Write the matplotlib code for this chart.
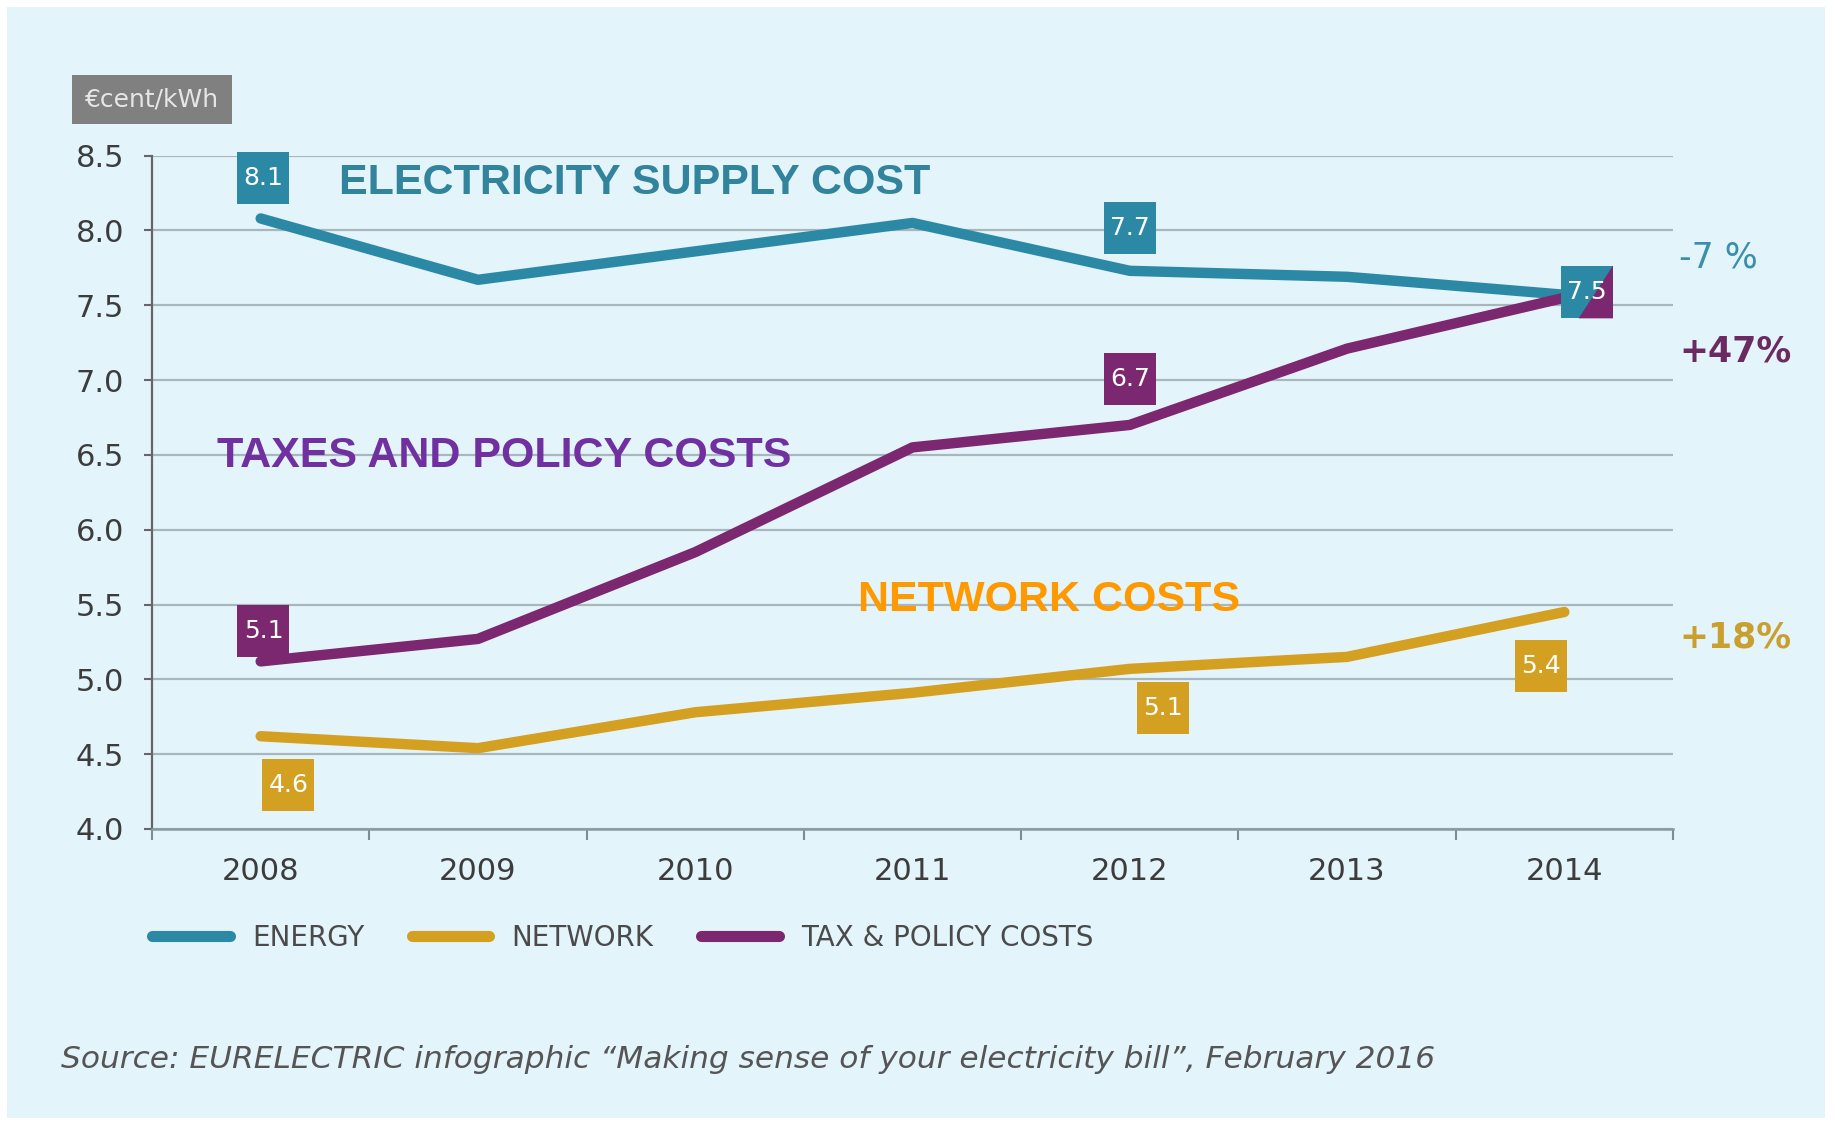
import matplotlib
matplotlib.use('Agg')
import matplotlib.pyplot as plt
from matplotlib.patches import Rectangle, Polygon
from matplotlib.transforms import offset_copy
import numpy as np

years = [2008, 2009, 2010, 2011, 2012, 2013, 2014]
energy = [8.08, 7.67, 7.86, 8.05, 7.73, 7.69, 7.57]
network = [4.62, 4.54, 4.78, 4.91, 5.07, 5.15, 5.45]
tax = [5.12, 5.27, 5.85, 6.55, 6.70, 7.21, 7.55]

series_names = ['ENERGY', 'NETWORK', 'TAX & POLICY COSTS']
y_ticks = [4.0, 4.5, 5.0, 5.5, 6.0, 6.5, 7.0, 7.5, 8.0, 8.5]

# value boxes: (series, year index, text, offset in points)
value_boxes = [
    ('energy', 0, '8.1', (2, 29)),
    ('energy', 4, '7.7', (0, 31)),
    ('tax', 4, '6.7', (0, 33)),
    ('tax', 0, '5.1', (2, 22)),
    ('network', 0, '4.6', (20, -35)),
    ('network', 4, '5.1', (24, -28)),
    ('network', 6, '5.4', (-17, -39)),
]
changes = [('-7 %', 7.82, 'energy'), ('+47%', 7.19, 'tax'), ('+18%', 5.28, 'network')]

BG = '#E4F4FB'
TEAL = '#2C89A6'
GOLD = '#D4A022'
PURPLE = '#7B2870'
colors = {'energy': TEAL, 'network': GOLD, 'tax': PURPLE}
change_colors = {'energy': '#3A8FAA', 'network': '#C9A030', 'tax': '#6B2A60'}
values = {'energy': energy, 'network': network, 'tax': tax}
BOX = 38  # marker size of the value boxes, points

fig = plt.figure(figsize=(18.34, 11.21), dpi=100, facecolor='white')
fig.patches.append(Rectangle((0.004, 0.003), 0.991, 0.991, transform=fig.transFigure,
                             facecolor=BG, edgecolor='none', zorder=-10))
ax = fig.add_axes([0.0829, 0.2605, 0.8293, 0.6007])
ax.set_facecolor('none')

for key, label in zip(['energy', 'network', 'tax'], series_names):
    ax.plot(years, values[key], color=colors[key], linewidth=7.5, solid_capstyle='round',
            solid_joinstyle='round', label=label, zorder=3)

ax.set_xlim(2007.5, 2014.5)
ax.set_ylim(4.0, 8.5)
ax.set_yticks(y_ticks)
ax.set_yticklabels(['%.1f' % v for v in y_ticks])
ax.set_xticks(years)
ax.set_xticks(np.arange(2007.5, 2015, 1), minor=True)
ax.tick_params(axis='x', which='major', length=0, pad=20, labelsize=22, labelcolor='#3C3C3C')
ax.tick_params(axis='x', which='minor', length=8, width=1.5, color='#7F8C92', direction='out')
ax.tick_params(axis='y', length=6, width=1.5, color='#666666', pad=14, labelsize=22,
               labelcolor='#3C3C3C')
ax.grid(axis='y', color='#A9B6BC', linewidth=1.6)
ax.set_axisbelow(True)
for side in ['top', 'right']:
    ax.spines[side].set_visible(False)
ax.spines['left'].set_color('#666666')
ax.spines['left'].set_linewidth(1.6)
ax.spines['bottom'].set_color('#8A9AA0')
ax.spines['bottom'].set_linewidth(1.8)

# unit label
ax.text(0.0, 1.084, '€cent/kWh', transform=ax.transAxes, ha='center', va='center',
        fontsize=18, color='#E6E6E6',
        bbox=dict(boxstyle='square,pad=0.5', facecolor='#808080', edgecolor='none'))


def value_box(x, y, txt, off, color):
    tr = offset_copy(ax.transData, fig=fig, x=off[0], y=off[1], units='points')
    ax.plot([x], [y], marker='s', markersize=BOX, color=color, markeredgewidth=0,
            transform=tr, zorder=5, clip_on=False)
    ax.text(x, y, txt, transform=tr, ha='center', va='center', fontsize=18,
            color='white', zorder=7)
    return tr


for key, i, txt, off in value_boxes:
    value_box(years[i], values[key][i], txt, off, colors[key])

# split box at 2014 where energy and tax meet
tr = value_box(years[6], energy[6], '7.5', (16, 2), TEAL)
cx, cy = tr.transform((years[6], energy[6]))
half = BOX / 2 * fig.dpi / 72
tri = Polygon([(cx - 0.3 * half, cy - half), (cx + half, cy + half), (cx + half, cy - half)],
              closed=True, transform=None, facecolor=PURPLE, edgecolor='none', zorder=6)
ax.add_artist(tri)

# category titles
ax.text(2008.36, 8.32, 'ELECTRICITY SUPPLY COST', ha='left', va='center', fontsize=31,
        fontweight='bold', family='Liberation Sans', color='#31849B')
ax.text(2007.80, 6.49, 'TAXES AND POLICY COSTS', ha='left', va='center', fontsize=31,
        fontweight='bold', family='Liberation Sans', color='#7030A0')
ax.text(2010.75, 5.53, 'NETWORK COSTS', ha='left', va='center', fontsize=31,
        fontweight='bold', family='Liberation Sans', color='#FF9900')

# percentage changes
for txt, yv, key in changes:
    ax.text(2014.53, yv, txt, ha='left', va='center', fontsize=25,
            color=change_colors[key], fontweight='bold' if key != 'energy' else 'normal')

leg = fig.legend(loc='center left', bbox_to_anchor=(0.0829, 1 - 938 / 1121), ncol=3,
                 frameon=False, fontsize=20, handlelength=2.8, handletextpad=0.8,
                 columnspacing=1.7, borderpad=0, borderaxespad=0)
for txt in leg.get_texts():
    txt.set_color('#4A4A4A')
for line in leg.get_lines():
    line.set_linewidth(8)
    line.set_solid_capstyle('round')

fig.text(61 / 1834, 1 - 1060 / 1121,
         'Source: EURELECTRIC infographic \u201cMaking sense of your electricity bill\u201d, February 2016',
         ha='left', va='center', fontsize=22.5, style='italic', color='#555555')

fig.savefig('out.png', dpi=100, facecolor='white')
